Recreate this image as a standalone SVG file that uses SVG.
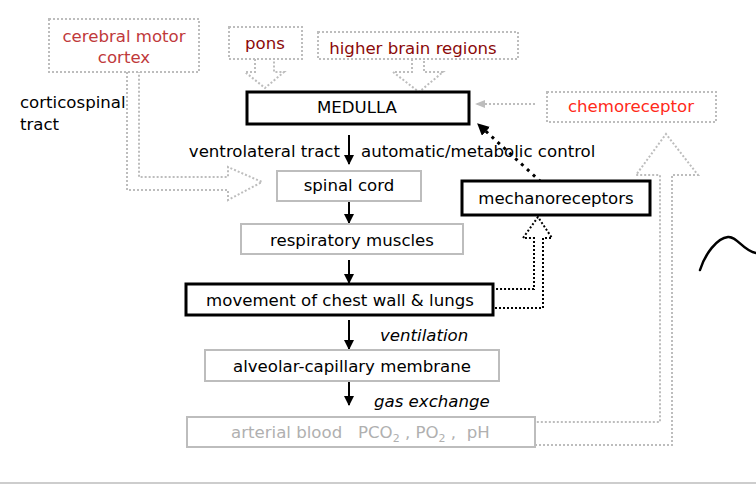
<svg xmlns="http://www.w3.org/2000/svg" width="756" height="484" viewBox="0 0 756 484">
<style>
text{font-family:"DejaVu Sans","Liberation Sans",sans-serif;font-size:16.6px;fill:#000}
.c{text-anchor:middle}
.it{font-style:italic}
.gbox{fill:#fff;stroke:#bdbdbd;stroke-width:2}
.bbox{fill:#fff;stroke:#000;stroke-width:3}
.gdot{fill:none;stroke:#bdbdbd;stroke-width:2;stroke-dasharray:2 2}
.kdot{fill:none;stroke:#000;stroke-width:2;stroke-dasharray:2 2}
.arr{stroke:#000;stroke-width:2;fill:none;marker-end:url(#ah)}
</style>
<defs>
<marker id="ah" viewBox="0 0 10 10" refX="9" refY="5" markerWidth="5" markerHeight="5" orient="auto" markerUnits="strokeWidth"><path d="M0,0 L10,5 L0,10 z" fill="#000"/></marker>
<marker id="ahg" viewBox="0 0 10 10" refX="9" refY="5" markerWidth="5" markerHeight="5" orient="auto" markerUnits="strokeWidth"><path d="M0,1 L10,5 L0,9 z" fill="#bdbdbd"/></marker>
<marker id="ahk" viewBox="0 0 10 10" refX="9" refY="5" markerWidth="4" markerHeight="4" orient="auto" markerUnits="strokeWidth"><path d="M0,0 L10,5 L0,10 z" fill="#000"/></marker>
</defs>
<rect width="756" height="484" fill="#fff"/>
<line x1="0" y1="483" x2="756" y2="483" stroke="#bdbdbd" stroke-width="1.5"/>
<g id="connectors">
<path class="gdot" d="M127,72 V190 H228 V200 L262,182 L228,167 V177 H139 V72"/>
<path class="gdot" d="M255,59 V72 H245 L265,88 L284,72 H274 V59"/>
<path class="gdot" d="M412,59 V72 H393 L419,92 L443,72 H424 V59"/>
<path class="gdot" d="M535,445 H672 V175 H698 L666,134 L636,175 H660 V422 H535"/>
<path class="kdot" d="M495,308 H543 V238 H552 L538,217 L523,238 H534 V289 H495"/>
<line x1="535" y1="104" x2="476" y2="104" stroke="#bdbdbd" stroke-width="2" stroke-dasharray="2 2" marker-end="url(#ahg)"/>
<line x1="541" y1="182" x2="478" y2="124" stroke="#000" stroke-width="3" stroke-dasharray="3 5" marker-end="url(#ahk)"/>
<line class="arr" x1="349" y1="135" x2="349" y2="164"/>
<line class="arr" x1="349" y1="201" x2="349" y2="223"/>
<line class="arr" x1="349" y1="260" x2="349" y2="283"/>
<line class="arr" x1="349" y1="320" x2="349" y2="349"/>
<line class="arr" x1="349" y1="381" x2="349" y2="405"/>
</g>
<g id="cortex"><rect x="49" y="19" width="150" height="53" class="gdot"/><text x="124" y="42" class="c" style="fill:#c0393b">cerebral motor</text><text x="124" y="63" class="c" style="fill:#c0393b">cortex</text></g>
<g id="pons"><rect x="229" y="27" width="73" height="32" class="gdot"/><text x="265" y="49" class="c" style="fill:#8b0a0a">pons</text></g>
<g id="higher"><rect x="318" y="32" width="200" height="27" class="gdot"/><text x="413" y="54" class="c" style="fill:#8b0a0a">higher brain regions</text></g>
<g id="medulla"><rect x="247" y="92" width="222" height="32" class="bbox"/><text x="357" y="113" class="c">MEDULLA</text></g>
<g id="chemo"><rect x="547" y="92" width="169" height="30" class="gdot"/><text x="631" y="112" class="c" style="fill:#ff2a1a">chemoreceptor</text></g>
<g id="labels"><text x="20" y="108">corticospinal</text><text x="20" y="130">tract</text>
<text x="340" y="157" text-anchor="end">ventrolateral tract</text><text x="361" y="157">automatic/metabolic control</text>
<text x="380" y="341" class="it">ventilation</text><text x="374" y="407" class="it">gas exchange</text></g>
<g id="spinal"><rect x="277" y="171" width="144" height="30" class="gbox"/><text x="349" y="191" class="c">spinal cord</text></g>
<g id="mechano"><rect x="462" y="181" width="188" height="34" class="bbox"/><text x="556" y="204" class="c">mechanoreceptors</text></g>
<g id="resp"><rect x="241" y="224" width="222" height="30" class="gbox"/><text x="352" y="246" class="c">respiratory muscles</text></g>
<g id="movement"><rect x="186" y="284" width="307" height="31" class="bbox"/><text x="340" y="306" class="c">movement of chest wall &amp; lungs</text></g>
<g id="alveolar"><rect x="205" y="350" width="294" height="31" class="gbox"/><text x="352" y="372" class="c">alveolar-capillary membrane</text></g>
<g id="arterial"><rect x="187" y="417" width="348" height="30" class="gbox"/><text x="231" y="438" style="fill:#b0b0b0;white-space:pre" xml:space="preserve">arterial blood   PCO<tspan font-size="11" dy="4">2</tspan><tspan dy="-4"> , PO</tspan><tspan font-size="11" dy="4">2</tspan><tspan dy="-4"> ,  pH</tspan></text></g>
<path d="M700,270 C705,254 717,238 728,237 C737,236 743,251 756,253" fill="none" stroke="#000" stroke-width="2.5" stroke-linecap="round"/>
</svg>
